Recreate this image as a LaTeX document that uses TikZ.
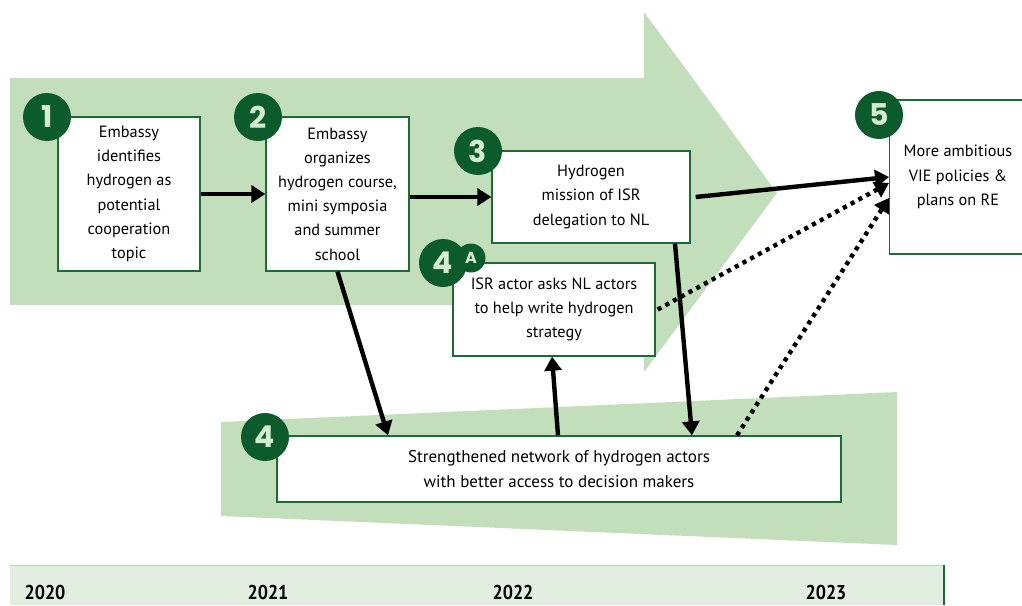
\documentclass[tikz,border=0pt]{standalone}
\usepackage{fontspec}
\setmainfont{PT Sans}
\newfontfamily\badgefont{Poppins}
\usetikzlibrary{arrows.meta}
\definecolor{lgreen}{HTML}{C2DEBB}
\definecolor{dgreen}{HTML}{0B5B2D}
\definecolor{bgreen}{HTML}{1C6B37}
\definecolor{digit}{HTML}{D6ECD0}
\definecolor{tfill}{HTML}{E1EEE0}
\definecolor{tline}{HTML}{B6D6B0}
\tikzset{
  box/.style={draw=bgreen, line width=1.3pt, fill=white, rectangle, inner sep=0pt, align=center,
    font=\fontsize{16.3}{24.2}\selectfont},
  badge/.style={circle, fill=dgreen, minimum size=48pt, inner sep=0pt, text=digit,
    font=\badgefont\bfseries\fontsize{30}{30}\selectfont},
  smallbadge/.style={circle, fill=dgreen, minimum size=29pt, inner sep=0pt, text=digit,
    font=\badgefont\bfseries\fontsize{16}{16}\selectfont},
  arr/.style={line width=4.4pt, -{Triangle[length=14pt,width=17pt]}},
  dotarr/.style={line width=4.4pt, dash pattern=on 4.2pt off 4.6pt, -{Triangle[length=14pt,width=17pt]}},
  year/.style={font=\bfseries\fontsize{20}{20}\selectfont, inner sep=0pt}
}
\begin{document}
\begin{tikzpicture}[x=1pt,y=-1pt]
\useasboundingbox (0,0) rectangle (1022,605);
% big arrow background
\fill[lgreen] (10,78) -- (644,78) -- (644,12) -- (777,193) -- (644,372) -- (644,305) -- (10,305) -- cycle;
% bottom wedge
\fill[lgreen] (221,422) -- (897,392) -- (897,545) -- (221,516) -- cycle;
% timeline
\fill[tfill] (10,565) rectangle (944,605);
\draw[tline, line width=1pt] (10,565) -- (944,565);
\draw[bgreen, line width=1.2pt] (944,565) -- (944,605);
\node[year, anchor=center] (y0) at (45,592) {\scalebox{0.9}[1]{2020}};
\node[year, anchor=center] (y1) at (268,592) {\scalebox{0.9}[1]{2021}};
\node[year, anchor=center] (y2) at (513,592) {\scalebox{0.9}[1]{2022}};
\node[year, anchor=center] (y3) at (826,592) {\scalebox{0.9}[1]{2023}};

% boxes
\node[box, minimum width=142pt, minimum height=154pt] (b1) at (129,194)
  {Embassy\\identifies\\hydrogen as\\potential\\cooperation\\topic};
\node[box, minimum width=143pt, minimum height=154pt] (b2) at (337.5,194)
  {Embassy\\organizes\\hydrogen course,\\mini symposia\\and summer\\school};
\node[box, minimum width=198pt, minimum height=92pt] (b3) at (591,197)
  {Hydrogen\\mission of ISR\\delegation to NL};
\node[box, minimum width=140pt, minimum height=154pt, anchor=west] (b5) at (889,177) {};
\node[font=\fontsize{16.3}{24.2}\selectfont, align=center] (t5) at (958,177)
  {More ambitious\\VIE policies \&\\plans on RE};
\node[box, minimum width=202pt, minimum height=93pt] (b4a) at (554,309.5)
  {ISR actor asks NL actors\\to help write hydrogen\\strategy};
\node[box, minimum width=564pt, minimum height=66pt, font=\fontsize{17}{24.2}\selectfont] (b4) at (559,469)
  {Strengthened network of hydrogen actors\\with better access to decision makers};

% badges
\node[badge] (c1) at (47,117) {1};
\node[badge] (c2) at (258,117) {2};
\node[badge] (c3) at (478,151) {3};
\node[badge] (c5) at (879,115) {5};
\node[badge] (c4a) at (443,263) {4};
\node[smallbadge] (ca) at (471,258) {A};
\node[badge] (c4) at (265,437) {4};

% connectors
\draw[arr] (b1.east) -- (b2.west);
\draw[arr] (b2.east |- b3.west) -- (b3.west);
\draw[arr] ([xshift=5pt]b3.east) -- (b5.west);
\draw[dotarr] ([xshift=2pt]b4a.east) -- ([yshift=-6pt]b5.west);
\draw[dotarr] ([xshift=178pt]b4.north) -- ([yshift=-21pt]b5.west);
\draw[arr] (b2.south) -- ([xshift=-171pt]b4.north);
\draw[arr] ([xshift=84pt]b3.south) -- ([xshift=133pt]b4.north);
\draw[arr] ([xshift=-1pt]b4.north) -- ([xshift=-2pt]b4a.south);
\end{tikzpicture}
\end{document}
